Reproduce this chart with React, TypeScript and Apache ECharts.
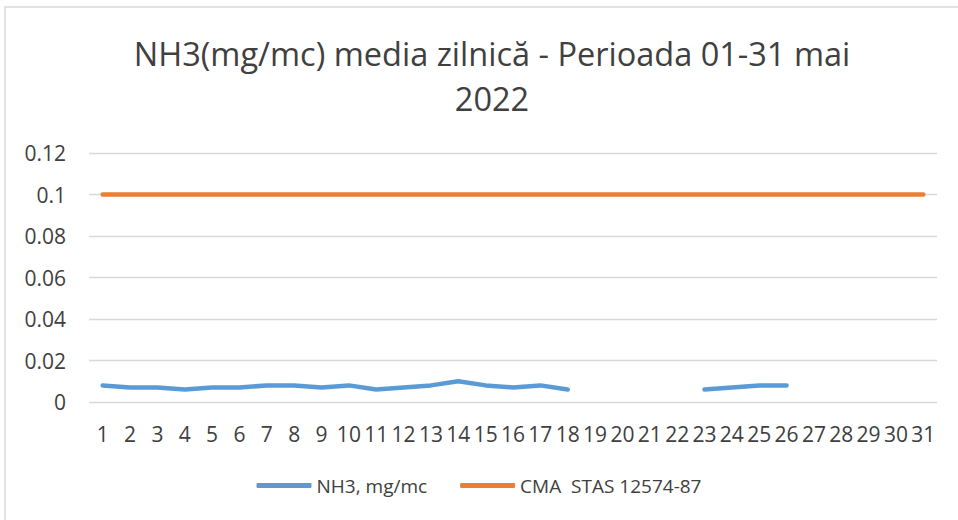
import React, { useEffect, useRef } from "react";
import * as echarts from "echarts";

const days: string[] = Array.from({ length: 31 }, (_, i) => String(i + 1));
const nh3: (number | null)[] = [
  0.008, 0.007, 0.007, 0.006, 0.007, 0.007, 0.008, 0.008, 0.007, 0.008,
  0.006, 0.007, 0.008, 0.01, 0.008, 0.007, 0.008, 0.006, null, null,
  null, null, 0.006, 0.007, 0.008, 0.008, null, null, null, null, null,
];
const cma: number[] = Array.from({ length: 31 }, () => 0.1);
const yTicks = { min: 0, max: 0.12, interval: 0.02 };

const FONT = "'Open Sans', 'Noto Sans', sans-serif";
const TXT = "#404040";

export default function App() {
  const ref = useRef<HTMLDivElement>(null);
  useEffect(() => {
    if (!ref.current) return;
    const chart = echarts.init(ref.current, null, { renderer: "svg" });
    chart.setOption({
      animation: false,
      backgroundColor: "#ffffff",
      textStyle: { fontFamily: FONT },
      graphic: [
        {
          type: "rect",
          shape: { x: 5, y: 7, width: 1000, height: 600 },
          style: { fill: "none", stroke: "#d9d9d9", lineWidth: 1.5 },
          silent: true,
        },
      ],
      title: {
        text: "NH3(mg/mc) media zilnică - Perioada 01-31 mai\n2022",
        left: 487,
        top: 26,
        textAlign: "center",
        textStyle: {
          fontFamily: FONT,
          fontSize: 32.5,
          fontWeight: "normal",
          color: TXT,
          lineHeight: 45,
        },
      },
      legend: {
        bottom: 20,
        left: "center",
        itemWidth: 55,
        itemHeight: 5,
        itemGap: 33,
        icon: "roundRect",
        textStyle: { fontFamily: FONT, fontSize: 19, color: TXT },
        data: ["NH3, mg/mc", "CMA  STAS 12574-87"],
      },
      grid: { left: 89, right: 21, top: 153, bottom: 118, containLabel: false },
      xAxis: {
        type: "category",
        data: days,
        boundaryGap: true,
        axisLine: { show: false },
        axisTick: { show: false },
        axisLabel: {
          interval: 0,
          fontFamily: FONT,
          fontSize: 21,
          color: TXT,
          margin: 21,
        },
      },
      yAxis: {
        type: "value",
        min: yTicks.min,
        max: yTicks.max,
        interval: yTicks.interval,
        axisLine: { show: false },
        axisTick: { show: false },
        splitLine: { lineStyle: { color: "#d9d9d9", width: 1.3 } },
        axisLabel: {
          fontFamily: FONT,
          fontSize: 21,
          color: TXT,
          margin: 23,
          formatter: (v: number) => String(parseFloat(v.toFixed(2))),
        },
      },
      series: [
        {
          name: "NH3, mg/mc",
          type: "line",
          data: nh3,
          connectNulls: false,
          showSymbol: false,
          symbol: "none",
          itemStyle: { color: "#5b9bd5" },
          lineStyle: { color: "#5b9bd5", width: 4.5, cap: "round", join: "round" },
        },
        {
          name: "CMA  STAS 12574-87",
          type: "line",
          data: cma,
          showSymbol: false,
          symbol: "none",
          itemStyle: { color: "#ed7d31" },
          lineStyle: { color: "#ed7d31", width: 4.5, cap: "round" },
        },
      ],
    });
    return () => chart.dispose();
  }, []);
  return (
    <div
      ref={ref}
      style={{ position: "absolute", left: 0, top: 0, width: 958, height: 520 }}
    />
  );
}
